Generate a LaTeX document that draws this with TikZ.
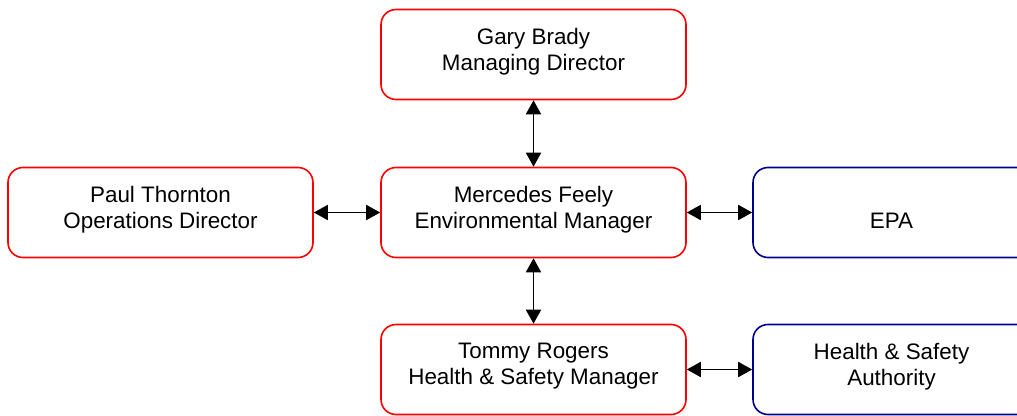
\documentclass[tikz,border=0pt]{standalone}
\usepackage{fontspec}
\setmainfont{Liberation Sans}
\usetikzlibrary{arrows.meta}
\definecolor{boxred}{RGB}{255,0,0}
\definecolor{boxblue}{RGB}{0,0,140}
\tikzset{
  redbox/.style={draw=boxred, line width=1.6pt, rounded corners=15pt,
    minimum width=305pt, minimum height=90pt, inner sep=0pt},
  bluebox/.style={redbox, draw=boxblue},
  lbl/.style={align=center, font=\fontsize{22.4}{26}\selectfont, inner sep=0pt},
  link/.style={{Triangle[length=14pt,width=15pt]}-{Triangle[length=14pt,width=15pt]},
    line width=1.8pt, black}
}
\begin{document}
\begin{tikzpicture}[x=1pt, y=-1pt]
    \useasboundingbox (0,0) rectangle (1017,415);
    \clip (0,0) rectangle (1017,415);

    % Cajas
    \node[redbox] (gary) at (533.5, 54.5) {};
    \node[redbox] (mercedes) at (533.5, 212.5) {};
    \node[redbox] (paul) at (160.5, 212.5) {};
    \node[bluebox] (epa) at (905.5, 212.5) {};
    \node[redbox] (tommy) at (533.5, 369.5) {};
    \node[bluebox] (hsa) at (905.5, 369.5) {};

    % Textos
    \node[lbl] (garyt) at ([yshift=3pt]gary.center) {Gary Brady\\Managing Director};
    \node[lbl] (mercedest) at ([yshift=3pt]mercedes.center) {Mercedes Feely\\Environmental Manager};
    \node[lbl] (pault) at ([yshift=3pt]paul.center) {Paul Thornton\\Operations Director};
    \node[lbl, anchor=base] (epat) at (891.5, 228) {EPA};
    \node[lbl] (hsat) at ([xshift=-14pt, yshift=3pt]hsa.center) {Health \& Safety\\Authority};
    \node[lbl] (tommyt) at ([yshift=3pt]tommy.center) {Tommy Rogers\\Health \& Safety Manager};

    % Flechas
    \draw[link] (gary.south) -- (mercedes.north);
    \draw[link] (mercedes.south) -- (tommy.north);
    \draw[link] (paul.east) -- (mercedes.west);
    \draw[link] (mercedes.east) -- (epa.west);
    \draw[link] (tommy.east) -- (hsa.west);
  \end{tikzpicture}
\end{document}
